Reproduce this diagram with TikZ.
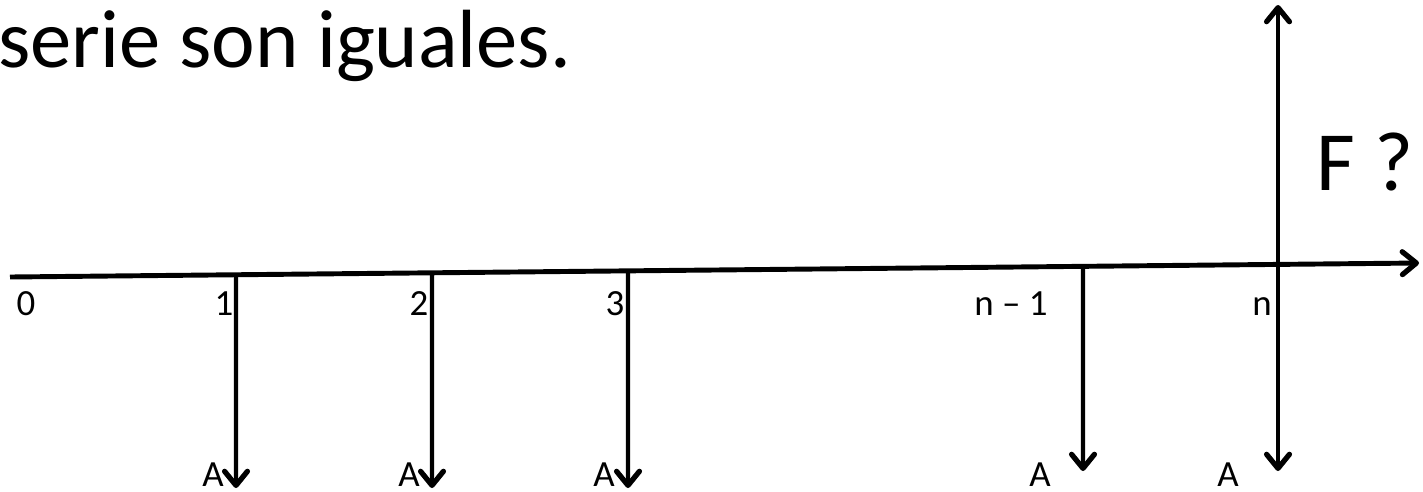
\documentclass[tikz,border=0pt]{standalone}
\usepackage{fontspec}
\setmainfont{Carlito}
\usetikzlibrary{arrows.meta,calc}

\begin{document}
\begin{tikzpicture}[x=0.02cm,y=-0.02cm,
    >={Straight Barb[length=8pt,width=13pt,line width=3pt,round]},
    axis/.style={line width=2.8pt},
    flow/.style={line width=2.3pt,->},
    lbl/.style={inner sep=0pt,anchor=base,font=\fontsize{21}{25}\selectfont}]
  \useasboundingbox (0,0) rectangle (1423,491);
  \node[inner sep=0pt,anchor=base west,font=\fontsize{47}{56}\selectfont] (title) at (-2,67) {serie son iguales.};
  \coordinate (O) at (10,277); \coordinate (E) at (1419,263);
  \draw[axis,->] (O) -- (E);
  % cash flows of the series
  \foreach \t/\x/\yb in {1/236/488, 2/432/488, 3/628/488, 4/1083/471}
    \draw[flow] ($(O)!{(\x-10)/1409}!(E)$) coordinate (T\t) -- (\x,\yb) coordinate (B\t);
  \coordinate (Fb) at (1278,471); \coordinate (Ft) at (1278,5);
  \draw[flow,<->] (Ft) -- (Fb);
  \foreach \n/\x/\txt in {z/26/0, a/224/1, b/419/2, c/615/3, d/1011/n -- 1, e/1262/n}
    \node[lbl] (L\n) at (\x,315) {\txt};
  \foreach \n/\x in {1/213, 2/409, 3/604, 4/1040, 5/1228}
    \node[lbl] (A\n) at (\x,486) {A};
  \node[inner sep=0pt,anchor=base west,font=\fontsize{48}{56}\selectfont] (F) at (1316,190) {F ?};
\end{tikzpicture}
\end{document}
